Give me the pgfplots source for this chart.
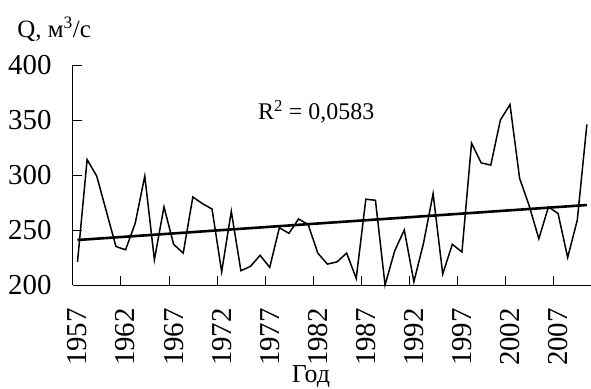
\documentclass[border=0pt]{standalone}
\usepackage{pgfplots}
\pgfplotsset{compat=1.18}
\usepackage{fontspec}
\setmainfont{Liberation Serif}
\newfontfamily\lbl{Liberation Serif}
\begin{document}
\begin{tikzpicture}
\begin{axis}[
  at={(0,0)}, anchor=south west,
  scale only axis, width=519bp, height=220bp,
  xmin=1956.5, xmax=2010.5, ymin=200, ymax=400,
  axis lines*=left,
  axis line style={line width=0.8bp},
  tick align=inside,
  major tick length=9bp,
  tick style={line width=0.6bp, black},
  ytick={200,250,300,350,400},
  yticklabels={200,250,300,350,400},
  xtick={1956.5,1961.5,1966.5,1971.5,1976.5,1981.5,1986.5,1991.5,1996.5,2001.5,2006.5},
  xticklabels={},
  extra x ticks={1957,1962,1967,1972,1977,1982,1987,1992,1997,2002,2007},
  extra x tick labels={1957,1962,1967,1972,1977,1982,1987,1992,1997,2002,2007},
  extra x tick style={major tick length=0pt},
  xticklabel style={rotate=90, anchor=east, inner sep=0pt, font=\lbl\fontsize{29}{30}\selectfont},
  xticklabel shift=23bp,
  yticklabel style={anchor=east, inner sep=0pt, xshift=-21bp, font=\lbl\fontsize{29}{30}\selectfont},
  /pgf/number format/assume math mode=true,
  clip=false,
]
\addplot[black, line width=1.5bp, line join=miter, mark=none] coordinates {
(1957,221) (1958,314) (1959,299) (1960,267) (1961,235) (1962,232) (1963,256) (1964,299)
(1965,223) (1966,271) (1967,237) (1968,229) (1969,280) (1970,274) (1971,269) (1972,212)
(1973,267) (1974,213) (1975,217) (1976,227) (1977,216) (1978,252) (1979,247) (1980,260)
(1981,255) (1982,229) (1983,219) (1984,221) (1985,229) (1986,206) (1987,278) (1988,277)
(1989,200) (1990,231) (1991,250) (1992,203) (1993,238) (1994,283) (1995,210) (1996,237)
(1997,230) (1998,329) (1999,311) (2000,309) (2001,350) (2002,364) (2003,297) (2004,272)
(2005,242) (2006,271) (2007,265) (2008,225) (2009,259) (2010,346)
};
\addplot[black, line width=2.6bp, mark=none] coordinates {(1957,240.9) (2010,272.7)};
\end{axis}
\node[anchor=base west, inner sep=0pt, font=\lbl\fontsize{25}{30}\selectfont] at (-55.4bp,247.7bp) {Q, м\textsuperscript{3}/с};
\node[anchor=base west, inner sep=0pt, font=\lbl\fontsize{24}{30}\selectfont] at (185.3bp,165bp) {R\textsuperscript{2} = 0,0583};
\node[anchor=base, inner sep=0pt, font=\lbl\fontsize{26}{30}\selectfont] at (238.3bp,-97.5bp) {Год};
\pgfresetboundingbox
\path[use as bounding box] (-72.7bp,-104bp) rectangle (518.3bp,285bp);
\end{tikzpicture}
\end{document}
